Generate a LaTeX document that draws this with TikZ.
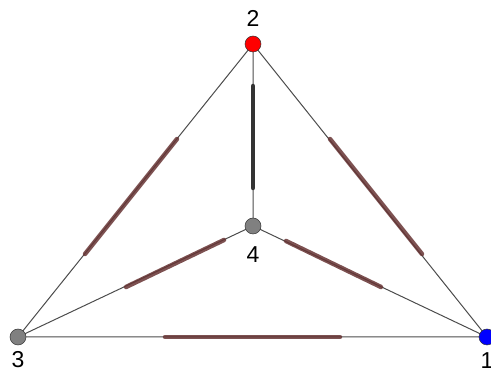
\documentclass[tikz,border=0pt]{standalone}
\usepackage{fontspec}
\setmainfont{Liberation Sans}
\definecolor{seg}{RGB}{102,51,51}
\begin{document}
\begin{tikzpicture}[x=1pt,y=-1pt,
  vtx/.style={circle,draw=black!80,line width=0.5pt,minimum size=16pt,inner sep=0pt},
  lbl/.style={font=\fontsize{23}{23}\selectfont,inner sep=0pt},
  thin/.style={draw=black!70,line width=1pt},
  thick/.style={draw=seg,draw opacity=0.85,line width=4.5pt,line cap=round},
  thickg/.style={draw=black!80,line width=4.5pt,line cap=round}]
\useasboundingbox (0,0) rectangle (491,371);
\coordinate (p1) at (487,337);
\coordinate (p2) at (253,44);
\coordinate (p3) at (18,337);
\coordinate (p4) at (253,226);
\draw[thin] (p1) -- (p2) (p2) -- (p3) (p3) -- (p1) (p4) -- (p1) (p4) -- (p2) (p4) -- (p3);
\coordinate (a1) at (177,139); \coordinate (a2) at (85,254);
\coordinate (b1) at (330,139); \coordinate (b2) at (422,254);
\coordinate (c1) at (165,337); \coordinate (c2) at (340,337);
\coordinate (d1) at (126,287); \coordinate (d2) at (224,240);
\coordinate (e1) at (286,241); \coordinate (e2) at (381,287);
\coordinate (f1) at (253,86); \coordinate (f2) at (253,188);
\draw[thick] (a1) -- (a2);
\draw[thick] (b1) -- (b2);
\draw[thick] (c1) -- (c2);
\draw[thick] (d1) -- (d2);
\draw[thick] (e1) -- (e2);
\draw[thickg] (f1) -- (f2);
\node[vtx,fill=red] (n2) at (p2) {};
\node[vtx,fill=blue] (n1) at (p1) {};
\node[vtx,fill=black!50] (n3) at (p3) {};
\node[vtx,fill=black!50] (n4) at (p4) {};
\node[lbl] (l2) at (253,18) {2};
\node[lbl] (l3) at (18,360) {3};
\node[lbl] (l1) at (487,361) {1};
\node[lbl] (l4) at (253,255) {4};
\end{tikzpicture}
\end{document}
